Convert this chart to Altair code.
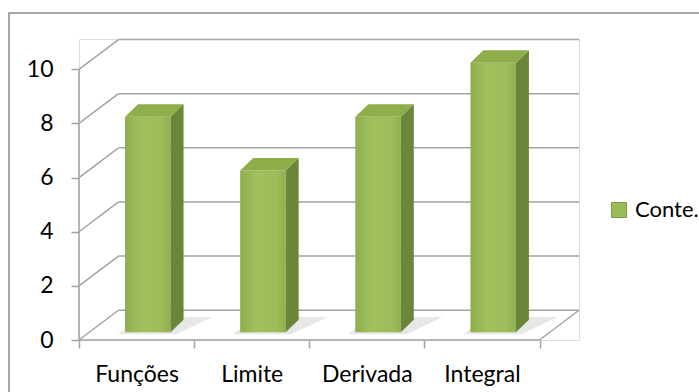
import json
import altair as alt
import pandas as pd

categories = ["Funções", "Limite", "Derivada", "Integral"]
values = [8, 6, 8, 10]
y_ticks = [0, 2, 4, 6, 8, 10]
series_name = "Conte."

# perspective geometry (data units)
WDX, WDY = 0.343, 1.1          # wall depth
BX1, BX2 = 0.40, 0.795         # bar front face within category band
BASE, K = 0.29, 0.995          # bar base lift and height scale
DDX, DDY = 0.113, 0.46         # bar depth

GRID = "#A3A3A3"
FONT = "Lato"

xscale = alt.Scale(domain=[0, 4 + WDX], nice=False, zero=False)
yscale = alt.Scale(domain=[0, 10 + WDY + 0.02], nice=False, zero=False)

label_arr = json.dumps(categories, ensure_ascii=False)
xaxis = alt.Axis(
    title=None, values=[i * 0.5 for i in range(9)], domain=False, grid=False,
    tickSize=8, tickColor=GRID, tickWidth=1.5, zindex=1,
    tickOpacity={"condition": {"test": "datum.value % 1 === 0", "value": 1}, "value": 0},
    labelExpr=f"datum.value % 1 === 0.5 ? {label_arr}[floor(datum.value)] : ''",
    labelFont=FONT, labelFontSize=23, labelColor="#000000",
    labelPadding=15, labelBaseline="top", labelAngle=0,
)
yaxis = alt.Axis(
    title=None, values=y_ticks, domain=False, grid=False, zindex=1,
    tickSize=8, tickColor=GRID, tickWidth=1.5,
    labelFont=FONT, labelFontSize=23, labelColor="#000000", labelPadding=18,
)

def X(f):
    return alt.X(f, type="quantitative", scale=xscale, axis=xaxis)

def Y(f):
    return alt.Y(f, type="quantitative", scale=yscale, axis=yaxis)

# wall / floor segments
segs = []
for v in y_ticks:
    segs.append(dict(x=0, x2=WDX, y=v, y2=v + WDY))
    segs.append(dict(x=WDX, x2=4 + WDX, y=v + WDY, y2=v + WDY))
segs.append(dict(x=0, x2=0, y=0, y2=10))
segs.append(dict(x=0, x2=4, y=0, y2=0))
segs.append(dict(x=4, x2=4 + WDX, y=0, y2=WDY))
seg_df = pd.DataFrame(segs)

front = pd.DataFrame([
    dict(cat=c, x=i + BX1, x2=i + BX2, y=BASE, y2=BASE + v * K)
    for i, (c, v) in enumerate(zip(categories, values))
])
side_rows, top_rows, shadow_rows = [], [], []
for i, (c, v) in enumerate(zip(categories, values)):
    t = BASE + v * K
    side_rows.append(dict(cat=c, x=i + BX2, y=BASE, y2=t))
    side_rows.append(dict(cat=c, x=i + BX2 + DDX, y=BASE + DDY, y2=t + DDY))
    top_rows.append(dict(cat=c, y=t, x=i + BX1, x2=i + BX2))
    top_rows.append(dict(cat=c, y=t + DDY, x=i + BX1 + DDX, x2=i + BX2 + DDX))
    shadow_rows.append(dict(cat=c, y=BASE - 0.08, x=i + BX1 - 0.06, x2=i + BX2 + 0.05))
    shadow_rows.append(dict(cat=c, y=BASE + DDY + 0.1, x=i + BX1 + DDX, x2=i + BX2 + DDX + 0.25))
side = pd.DataFrame(side_rows)
top = pd.DataFrame(top_rows)
shadow = pd.DataFrame(shadow_rows)
legend_df = pd.DataFrame({"series": [series_name], "x": [0], "y": [0]})

border = alt.Chart(legend_df).mark_rect(fillOpacity=0, stroke="#8C8C8C", strokeWidth=1.5).encode(
    x=alt.value(-70), x2=alt.value(625), y=alt.value(-26), y2=alt.value(360)
)

grid = alt.Chart(seg_df).mark_rule(color=GRID, strokeWidth=1.5).encode(
    x=X("x"), x2="x2", y=Y("y"), y2="y2"
)

shadow_layer = alt.Chart(shadow).mark_area(orient="horizontal", color="#D4D4D4", opacity=0.55).encode(
    y=Y("y"), x=X("x"), x2="x2", detail="cat:N"
)

front_grad = alt.Gradient(
    gradient="linear", x1=0, x2=1, y1=0, y2=0,
    stops=[
        alt.GradientStop(color="#8EAE4E", offset=0),
        alt.GradientStop(color="#A0C05E", offset=0.35),
        alt.GradientStop(color="#9DBD5B", offset=0.8),
        alt.GradientStop(color="#90B050", offset=1),
    ],
)
front_layer = alt.Chart(front).mark_rect(fill=front_grad).encode(
    x=X("x"), x2="x2", y=Y("y"), y2="y2"
)
side_layer = alt.Chart(side).mark_area(color="#6A8639").encode(
    x=X("x"), y=Y("y"), y2="y2", detail="cat:N"
)
top_layer = alt.Chart(top).mark_area(orient="horizontal", color="#8DAE4B").encode(
    y=Y("y"), x=X("x"), x2="x2", detail="cat:N"
)

legend_layer = alt.Chart(legend_df).mark_square(opacity=0).encode(
    x=X("x"), y=Y("y"),
    color=alt.Color(
        "series:N",
        scale=alt.Scale(range=["#9BBB59"]),
        legend=alt.Legend(
            title=None, orient="none", legendX=529, legendY=160, padding=0,
            symbolType="square", symbolSize=225, symbolOpacity=1,
            symbolStrokeColor="#7E9A45", symbolStrokeWidth=1,
            labelFont=FONT, labelFontSize=22, labelColor="#000000", labelOffset=5,
        ),
    ),
)

chart = alt.layer(
    border, grid, shadow_layer, front_layer, side_layer, top_layer, legend_layer
).properties(
    width=500, height=301,
    autosize=alt.AutoSizeParams(type="none"),
    padding={"left": 79, "top": 39, "right": 120, "bottom": 52},
).configure_view(stroke=None).configure(background="white")

chart.save("out.html", embed_options={"renderer": "svg", "actions": False})
